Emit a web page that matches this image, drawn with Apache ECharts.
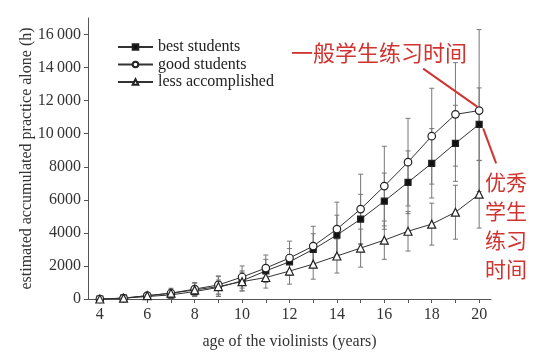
<!DOCTYPE html>
<html><head><meta charset="utf-8">
<script src="https://cdn.jsdelivr.net/npm/echarts@6/dist/echarts.min.js"></script>
<style>html,body{margin:0;padding:0;background:#fff}#c{width:550px;height:357px}</style>
</head><body><div id="c"></div><script>
const ages = [4,5,6,7,8,9,10,11,12,13,14,15,16,17,18,19,20];
const xLabels = [4,6,8,10,12,14,16,18,20];
const yTicks = [0,2000,4000,6000,8000,10000,12000,14000,16000];
const best = [0,50,150,250,450,700,1100,1700,2250,3000,3870,4830,5920,7060,8210,9420,10570];
const good = [0,50,200,350,600,850,1330,1870,2480,3200,4230,5440,6830,8280,9850,11170,11400];
const less = [0,50,200,350,550,750,1050,1300,1690,2110,2600,3080,3560,4100,4530,5250,6340];
const bestErr = [0,50,100,200,300,450,600,700,800,950,1200,1500,1700,1900,2100,2300,2200];
const goodErr = [0,50,100,300,400,550,670,790,1020,1200,1630,2110,2410,2650,2900,3130,4900];
const lessErr = [0,50,100,200,400,600,570,640,790,910,1030,1150,1160,1200,1270,1630,2050];
const seriesNames = ['best students','good students','less accomplished'];
const noteTop = '一般学生练习时间';
const noteRight = ['优秀','学生','练习','时间'];

const serif = 'Liberation Serif';
const red = '#cf3430';
const chart = echarts.init(document.getElementById('c'));

function errData(vals, errs){ return ages.map((a,i)=>[a, vals[i]-errs[i], vals[i]+errs[i]]); }
function errSeries(vals, errs){
  return {
    type:'custom', silent:true, z:1,
    data: errData(vals, errs),
    encode:{x:0, y:[1,2]},
    renderItem:function(params, api){
      const lo = api.coord([api.value(0), api.value(1)]);
      const hi = api.coord([api.value(0), api.value(2)]);
      const st = {stroke:'#777', lineWidth:1};
      return {type:'group', children:[
        {type:'line', shape:{x1:lo[0],y1:lo[1],x2:hi[0],y2:hi[1]}, style:st},
        {type:'line', shape:{x1:lo[0]-2.5,y1:lo[1],x2:lo[0]+2.5,y2:lo[1]}, style:st},
        {type:'line', shape:{x1:hi[0]-2.5,y1:hi[1],x2:hi[0]+2.5,y2:hi[1]}, style:st}
      ]};
    }
  };
}
function lineSeries(name, vals, symbol, size, fill){
  return {
    name:name, type:'line', z:3,
    data: ages.map((a,i)=>[a, vals[i]]),
    symbol:symbol, symbolSize:size, showSymbol:true,
    lineStyle:{color:'#333', width:1},
    itemStyle:{color:fill, borderColor:'#222', borderWidth:1.2},
    emphasis:{disabled:true}, animation:false
  };
}

chart.setOption({
  animation:false,
  grid:{left:88, right:59, top:18, bottom:58},
  legend:{
    orient:'vertical', left:112, top:34, itemWidth:35, itemHeight:7, itemGap:1.5,
    data:seriesNames,
    textStyle:{fontFamily:serif, fontSize:16, color:'#222'}
  },
  xAxis:{
    type:'value', min:3.5, max:20.5,
    name:'age of the violinists (years)', nameLocation:'middle', nameGap:35,
    nameTextStyle:{fontFamily:serif, fontSize:16, color:'#333'},
    axisLine:{lineStyle:{color:'#555'}},
    axisTick:{customValues:ages, length:4, lineStyle:{color:'#555'}},
    axisLabel:{customValues:xLabels, fontFamily:serif, fontSize:16, color:'#333', margin:8},
    splitLine:{show:false}
  },
  yAxis:{
    type:'value', min:0, max:17000,
    name:'estimated accumulated practice alone (h)', nameLocation:'middle', nameGap:53,
    nameMoveOverlap:false,
    nameTextStyle:{fontFamily:serif, fontSize:16, color:'#333'},
    axisLine:{show:true, lineStyle:{color:'#555'}},
    axisTick:{show:true, customValues:yTicks, length:4, lineStyle:{color:'#555'}},
    axisLabel:{customValues:yTicks, fontFamily:serif, fontSize:16, color:'#333', margin:7,
      formatter:function(v){ return v>=10000 ? Math.floor(v/1000)+'\u2009000' : String(v); }},
    splitLine:{show:false}
  },
  series:[
    errSeries(good, goodErr),
    errSeries(best, bestErr),
    errSeries(less, lessErr),
    lineSeries(seriesNames[0], best, 'rect', 6, '#111'),
    lineSeries(seriesNames[1], good, 'circle', 7.5, '#fff'),
    lineSeries(seriesNames[2], less, 'triangle', 8, '#fff')
  ]
});

const last = ages.length-1;
const pGood = chart.convertToPixel({gridIndex:0}, [ages[last], good[last]]);
const pBest = chart.convertToPixel({gridIndex:0}, [ages[last], best[last]]);
chart.setOption({
  graphic:[
    {type:'text', left:291, top:42, z:10, style:{text:noteTop, fontFamily:'Noto Sans CJK SC', fontSize:22, fill:red}},
    {type:'line', z:10, shape:{x1:pGood[0]-56, y1:pGood[1]-42, x2:pGood[0]-2, y2:pGood[1]-4}, style:{stroke:red, lineWidth:2}},
    {type:'line', z:10, shape:{x1:pBest[0]+4, y1:pBest[1]+4, x2:pBest[0]+17, y2:pBest[1]+39}, style:{stroke:red, lineWidth:2}},
    {type:'text', left:485, top:168, z:10, style:{text:noteRight.join('\n'), fontFamily:'Noto Sans CJK SC', fontSize:21, lineHeight:29, fill:red}}
  ]
});
</script></body></html>
